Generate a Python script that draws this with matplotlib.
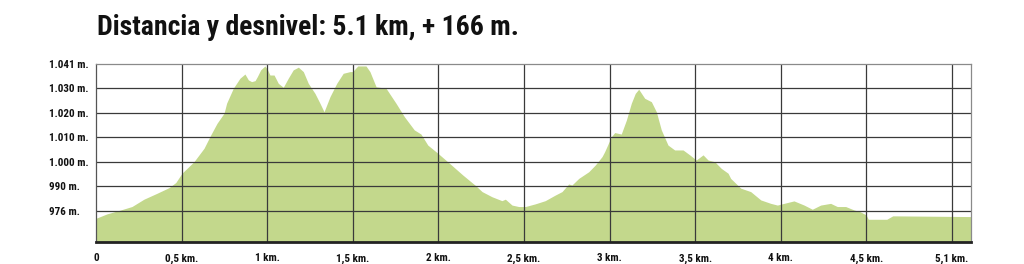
import matplotlib
matplotlib.use('Agg')
import matplotlib.pyplot as plt

# profile: distance (km) and elevation on the chart's scale
distance_km = [0.0, 0.064, 0.144, 0.210, 0.280, 0.356, 0.426, 0.466, 0.502, 0.572,
               0.631, 0.670, 0.707, 0.748, 0.763, 0.802, 0.841, 0.870, 0.890, 0.909,
               0.929, 0.942, 0.962, 0.987, 1.001, 1.016, 1.040, 1.065, 1.094, 1.123,
               1.152, 1.182, 1.211, 1.240, 1.279, 1.308, 1.332, 1.367, 1.406, 1.444,
               1.484, 1.499, 1.529, 1.577, 1.600, 1.636, 1.694, 1.752, 1.801, 1.859,
               1.898, 1.938, 1.996, 2.064, 2.142, 2.220, 2.255, 2.313, 2.371, 2.391,
               2.430, 2.469, 2.508, 2.566, 2.624, 2.683, 2.722, 2.761, 2.780, 2.820,
               2.878, 2.917, 2.956, 2.971, 3.010, 3.030, 3.068, 3.098, 3.127, 3.150,
               3.170, 3.205, 3.244, 3.273, 3.302, 3.341, 3.380, 3.429, 3.468, 3.506,
               3.546, 3.575, 3.614, 3.652, 3.692, 3.707, 3.766, 3.824, 3.883, 3.941,
               3.980, 4.019, 4.077, 4.136, 4.184, 4.233, 4.291, 4.330, 4.379, 4.428,
               4.463, 4.498, 4.511, 4.619, 4.654, 5.111]
elevation = [977.0, 978.8, 980.4, 981.8, 984.8, 987.2, 989.5, 991.6, 995.4, 1000.1,
             1005.6, 1011.0, 1015.8, 1019.9, 1024.0, 1030.1, 1034.2, 1035.9, 1033.5, 1032.8,
             1033.2, 1034.8, 1037.6, 1039.2, 1037.8, 1035.5, 1035.5, 1032.1, 1030.5, 1034.2,
             1037.6, 1038.7, 1036.9, 1032.1, 1028.0, 1024.0, 1020.5, 1026.7, 1032.1, 1036.2,
             1036.9, 1036.9, 1039.2, 1039.2, 1036.9, 1030.7, 1030.1, 1024.0, 1018.5, 1013.1,
             1011.4, 1006.9, 1003.6, 999.5, 994.7, 990.2, 987.9, 985.8, 984.2, 984.8,
             982.4, 981.8, 981.8, 982.9, 984.2, 986.5, 987.9, 991.0, 990.6, 993.3,
             996.0, 998.8, 1002.2, 1004.2, 1010.3, 1012.0, 1011.4, 1017.1, 1024.0, 1028.0,
             1029.7, 1026.0, 1024.6, 1020.5, 1013.1, 1006.9, 1004.9, 1004.9, 1002.9, 1000.8,
             1002.9, 1000.8, 1000.1, 997.4, 995.4, 993.3, 989.3, 987.9, 984.5, 983.1,
             982.4, 983.1, 984.1, 982.4, 980.7, 982.4, 983.1, 981.8, 981.8, 980.4,
             979.7, 978.4, 976.6, 976.6, 978.0, 977.7]

x_ticks = [0, 0.5, 1, 1.5, 2, 2.5, 3, 3.5, 4, 4.5, 5.0]
x_labels = ['0', '0,5 km.', '1 km.', '1,5 km.', '2 km.', '2,5 km.', '3 km.',
            '3,5 km.', '4 km.', '4,5 km.', '5,1 km.']
y_ticks = [1040, 1030, 1020, 1010, 1000, 990, 980]
y_labels = ['1.041 m.', '1.030 m.', '1.020 m.', '1.010 m.', '1.000 m.', '990 m.', '976 m.']

TITLE = 'Distancia y desnivel: 5.1 km, + 166 m.'
FILL = '#c3d88c'
GRID = '#3a3a3a'

plt.rcParams['font.family'] = ['Roboto Condensed', 'PT Sans Narrow', 'DejaVu Sans']

fig = plt.figure(figsize=(10.24, 2.64), dpi=100)
ax = fig.add_axes([96 / 1024, 1 - 242.3 / 264, 875 / 1024, 178.3 / 264])

ax.fill_between(distance_km, elevation, 960, color=FILL, linewidth=0, zorder=1)
for x in x_ticks[1:]:
    ax.axvline(x, color=GRID, linewidth=0.9, zorder=2)
for y in y_ticks[1:]:
    ax.axhline(y, color=GRID, linewidth=0.9, zorder=2)

ax.set_xlim(0, 5.111)
ax.set_ylim(967.2, 1040)

for side in ['top', 'right']:
    ax.spines[side].set_color('#8a8a8a')
    ax.spines[side].set_linewidth(0.9)
ax.spines['left'].set_color('#555555')
ax.spines['left'].set_linewidth(0.9)
ax.spines['bottom'].set_color('#222222')
ax.spines['bottom'].set_linewidth(2.0)
for s in ax.spines.values():
    s.set_zorder(3)

ax.set_xticks(x_ticks)
ax.set_xticklabels(x_labels, fontsize=8, fontweight='bold', color='#111111')
ax.set_yticks(y_ticks)
ax.set_yticklabels(y_labels, fontsize=8, fontweight='bold', color='#111111', ha='left')
ax.tick_params(axis='both', length=0)
ax.tick_params(axis='x', pad=8)
ax.tick_params(axis='y', pad=34)

fig.text(97 / 1024, 1 - 35 / 264, TITLE, fontsize=20, fontweight='bold',
         color='#111111', ha='left', va='baseline')

fig.savefig('out.png', dpi=100, facecolor='white')
